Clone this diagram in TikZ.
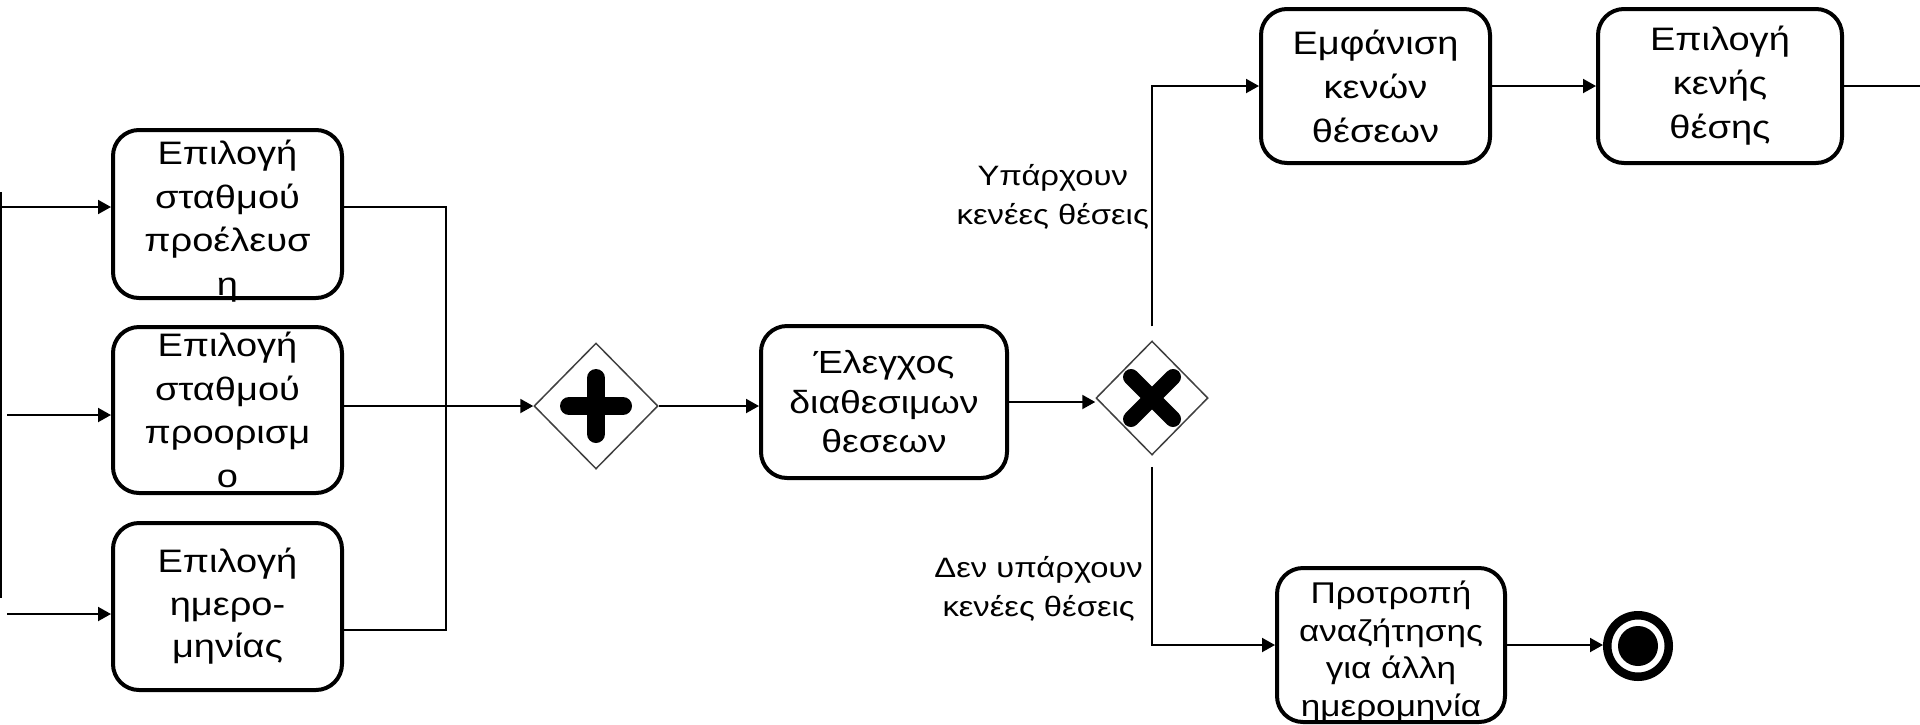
\documentclass[tikz,border=0pt]{standalone}
\usepackage{fontspec}
\setmainfont{Liberation Sans}[FakeStretch=1.17]
\usetikzlibrary{shapes.geometric,arrows.meta}

\begin{document}
\begin{tikzpicture}[x=1pt, y=-1pt,
		task/.style={draw, line width=4pt, rounded corners=26pt, align=center, inner sep=0pt,
			minimum width=229pt, minimum height=166pt, font=\fontsize{32.5}{43.5}\selectfont},
		tasktext/.style={align=center, inner sep=0pt, font=\fontsize{32.5}{43.5}\selectfont},
		gate/.style={diamond, draw=black!75, line width=1.5pt, inner sep=0pt,
			minimum width=124pt, minimum height=126pt},
		lbl/.style={align=center, inner sep=0pt, font=\fontsize{28}{38.5}\selectfont},
		line/.style={line width=2pt},
		flow/.style={line width=2pt, -{Triangle[length=13pt,width=14pt]}}]
		\useasboundingbox (0,0) rectangle (1920,724);

		\node[task, minimum height=168pt] (b1) at (227.5,214) {};
		\node[tasktext] (b1text) at ([yshift=-7pt]b1.center) {Επιλογή\\σταθμού\\προέλευσ\\η};
		\node[task] (b2) at (227.5,410) {Επιλογή\\σταθμού\\προορισμ\\ο};
		\node[task, minimum height=167pt, font=\fontsize{32.5}{42.5}\selectfont] (b3) at (227.5,606.5) {Επιλογή\\ημερο-\\μηνίας};

		\node[gate] (par) at (596,406) {};
		\draw[line width=18pt, line cap=round] ([xshift=-27pt]par.center) -- ([xshift=27pt]par.center);
		\draw[line width=18pt, line cap=round] ([yshift=-28pt]par.center) -- ([yshift=28pt]par.center);

		\node[task, minimum width=246pt, minimum height=152pt, font=\fontsize{32}{39.5}\selectfont] (check) at (884,402) {Έλεγχος\\διαθεσιμων\\θεσεων};

		\node[gate, minimum width=112pt, minimum height=114pt] (xor) at (1152,398) {};
		\draw[line width=16pt, line cap=round] ([shift={(-21,-21)}]xor.center) -- ([shift={(21,21)}]xor.center);
		\draw[line width=16pt, line cap=round] ([shift={(-21,21)}]xor.center) -- ([shift={(21,-21)}]xor.center);

		\node[task, minimum height=154pt, font=\fontsize{32.5}{44}\selectfont] (show) at (1375.5,86) {Εμφάνιση\\κενών\\θέσεων};
		\node[task, minimum width=244pt, minimum height=154pt, font=\fontsize{32.5}{44}\selectfont] (pick) at (1720,86) {Επιλογή\\κενής\\θέσης};
		\node[task, minimum width=228pt, minimum height=154pt] (prompt) at (1391,645) {};
		\node[tasktext, font=\fontsize{30}{37.5}\selectfont] (prompttext) at ([yshift=-7pt]prompt.center) {Προτροπή\\αναζήτησης\\για άλλη\\ημερομηνία};

		\node[circle, draw, line width=8.5pt, minimum size=61.5pt, inner sep=0pt] (end) at (1638,646) {};
		\node[circle, fill, minimum size=40pt, inner sep=0pt] (endc) at (end) {};

		\node[lbl, anchor=east] (yes) at (1149,197) {Υπάρχουν\\κενέες θέσεις};
		\node[lbl, anchor=east] (no) at (1143,589) {Δεν υπάρχουν\\κενέες θέσεις};

		\coordinate (top) at (1,192);
		\coordinate (bot) at (1,598);
		\coordinate (in1) at (0,207);
		\coordinate (in2) at (7,415);
		\coordinate (in3) at (7,614);
		\coordinate (j1) at (446,207);
		\coordinate (j3) at (446,630);
		\coordinate (out) at (1920,86);

		\draw[line] (top) -- (bot);
		\draw[flow] (in1) -- (in1 -| b1.west);
		\draw[flow] (in2) -- (in2 -| b2.west);
		\draw[flow] (in3) -- (in3 -| b3.west);
		\draw[line] (j1 -| b1.east) -- (j1) -- (j3) -- (j3 -| b3.east);
		\draw[flow] (b2.east |- par) -- (par.west);
		\draw[flow] (par.east) -- (par.east -| check.west);
		\draw[flow] (check.east) -- (check.east -| xor.west);
		\draw[flow, shorten <=14pt] (xor.north) |- (show.west);
		\draw[flow, shorten <=11pt] (xor.south) |- (prompt.west);
		\draw[flow] (show.east) -- (pick.west);
		\draw[line] (pick.east) -- (out);
		\draw[flow] (prompt.east) -- (prompt.east -| end.west);
\end{tikzpicture}
\end{document}
